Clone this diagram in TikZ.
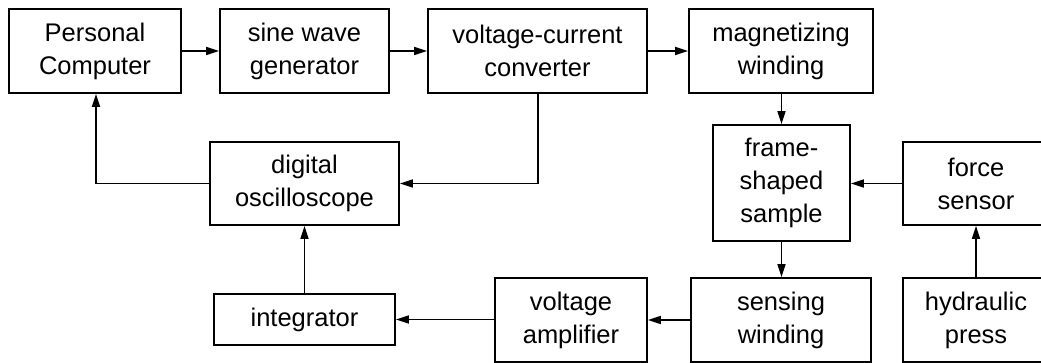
\documentclass[tikz,border=0pt]{standalone}
\usepackage{fontspec}
\setmainfont{Liberation Sans}
\usetikzlibrary{arrows.meta}
\begin{document}
\begin{tikzpicture}[x=1pt,y=-1pt,
  blk/.style={draw=black, line width=1.7pt, inner sep=0pt, align=center,
    font=\fontsize{25.5}{33}\selectfont, text=black},
  conn/.style={line width=1.6pt, -{Triangle[length=13pt,width=8pt]}}]
\useasboundingbox (0,0) rectangle (1041,363);
\begin{scope}
\clip (0,0) rectangle (1041,363);
\node[blk, minimum width=172pt, minimum height=84pt] (pc) at (95,51) {Personal\\Computer};
\node[blk, minimum width=169pt, minimum height=84pt] (sine) at (304.5,51) {sine wave\\generator};
\node[blk, minimum width=219pt, minimum height=84pt] (vc) at (537.5,51) {voltage-current\\converter};
\node[blk, minimum width=184pt, minimum height=84pt] (mag) at (781,51) {magnetizing\\winding};
\node[blk, minimum width=189pt, minimum height=83pt] (osc) at (304.5,183.5) {digital\\oscilloscope};
\node[blk, minimum width=137pt, minimum height=116pt] (sample) at (781.5,183) {frame-\\shaped\\sample};
\node[blk, minimum width=146pt, minimum height=83pt] (force) at (976,183.5) {force\\sensor};
\node[blk, minimum width=181pt, minimum height=51pt] (integ) at (304.5,319.5) {integrator};
\node[blk, minimum width=152pt, minimum height=84pt] (amp) at (571,320) {voltage\\amplifier};
\node[blk, minimum width=180pt, minimum height=84pt] (sens) at (781,320) {sensing\\winding};
\node[blk, minimum width=146pt, minimum height=84pt] (hyd) at (976,320) {hydraulic\\press};
\end{scope}
\draw[conn] (pc) -- (sine);
\draw[conn] (sine) -- (vc);
\draw[conn] (vc) -- (mag);
\draw[conn] (mag.south -| sample.north) -- (sample.north);
\draw[conn] (force.west) -- (force.west -| sample.east);
\draw[conn] (sample.south) -- (sample.south |- sens.north);
\draw[conn] (hyd.north) -- (force.south);
\draw[conn] (sens.west) -- (sens.west -| amp.east);
\draw[conn] (amp.west |- integ.east) -- (integ.east);
\draw[conn] (integ.north) -- (osc.south);
\coordinate (pcin) at ([xshift=1pt]pc.south);
\draw[conn] (osc.west) -| (pcin);
\coordinate (vcout) at (538,93);
\draw[conn] (vcout) |- (osc.east);
\end{tikzpicture}
\end{document}
